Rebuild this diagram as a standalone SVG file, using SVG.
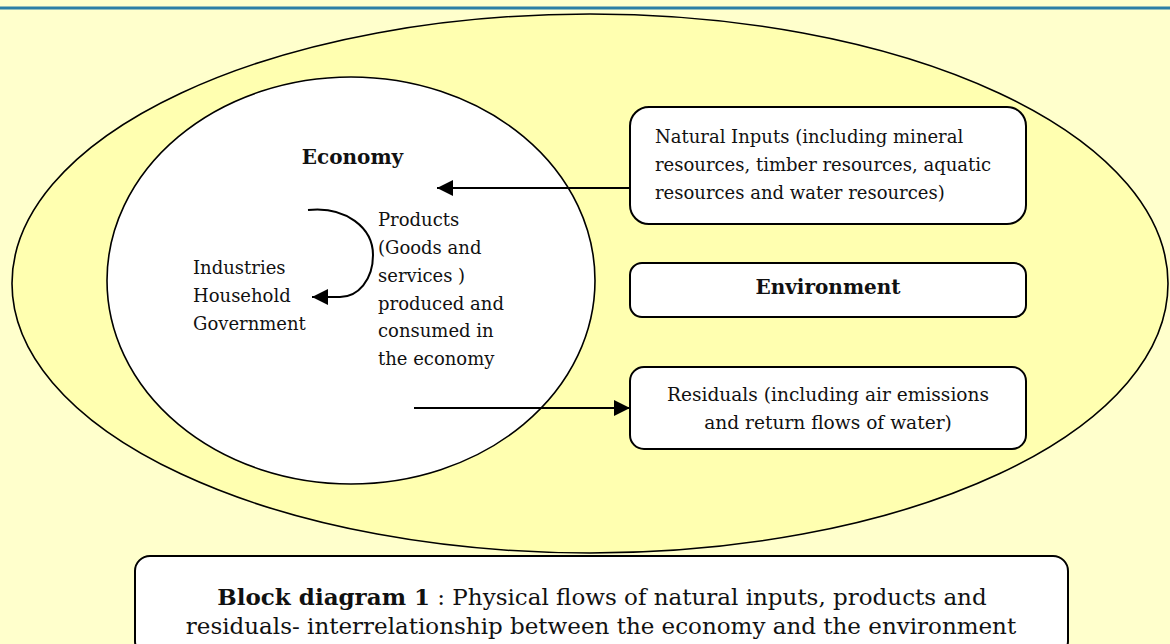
<svg xmlns="http://www.w3.org/2000/svg" width="1170" height="644" viewBox="0 0 1170 644">
<defs>
<style>
.t{font-family:"DejaVu Serif","Liberation Serif",serif;font-size:18px;fill:#111}
.b{font-weight:bold;font-size:20px}
.r{font-size:18.6px}
.box{fill:#fff;stroke:#000;stroke-width:2}
.ln{fill:none;stroke:#000;stroke-width:2}
.cap{font-size:23px}
</style>
<marker id="ah" markerUnits="userSpaceOnUse" markerWidth="18" markerHeight="16" refX="16" refY="8" orient="auto" viewBox="0 0 18 16">
<path d="M0,0 L16,8 L0,16 Z" fill="#000"/>
</marker>
</defs>
<rect width="1170" height="644" fill="#FFFFCC"/>
<line x1="0" y1="8" x2="1170" y2="8" stroke="#2B7FA6" stroke-width="3"/>
<g id="environment-ellipse">
<ellipse cx="590" cy="283.5" rx="578" ry="269.5" fill="#FFFFB0" stroke="#000" stroke-width="1.6"/>
</g>
<g id="economy">
<ellipse cx="351" cy="280.5" rx="244" ry="203.5" fill="#fff" stroke="#000" stroke-width="1.6"/>
<text class="t b" x="352.5" y="164" text-anchor="middle">Economy</text>
<text class="t" x="193" y="274">Industries</text>
<text class="t" x="193" y="302">Household</text>
<text class="t" x="193" y="330">Government</text>
<text class="t" x="378" y="226">Products</text>
<text class="t" x="378" y="254">(Goods and</text>
<text class="t" x="378" y="282">services )</text>
<text class="t" x="378" y="310">produced and</text>
<text class="t" x="378" y="337">consumed in</text>
<text class="t" x="378" y="365">the economy</text>
</g>
<g id="natural-inputs">
<rect class="box" x="630" y="107" width="396" height="117" rx="19"/>
<text class="t" x="655" y="143">Natural Inputs (including mineral</text>
<text class="t" x="655" y="171">resources, timber resources, aquatic</text>
<text class="t" x="655" y="199">resources and water resources)</text>
</g>
<g id="environment">
<rect class="box" x="630" y="263" width="396" height="54" rx="12"/>
<text class="t b" x="828" y="294" text-anchor="middle">Environment</text>
</g>
<g id="residuals">
<rect class="box" x="630" y="367" width="396" height="82" rx="14"/>
<text class="t r" x="828" y="401" text-anchor="middle">Residuals (including air emissions</text>
<text class="t r" x="828" y="429" text-anchor="middle">and return flows of water)</text>
</g>
<g id="caption">
<rect class="box" x="135" y="556" width="933" height="100" rx="15"/>
<text class="t cap" x="602" y="605" text-anchor="middle"><tspan font-weight="bold">Block diagram 1</tspan> : Physical flows of natural inputs, products and</text>
<text class="t cap" x="601" y="634" text-anchor="middle">residuals- interrelationship between the economy and the environment</text>
</g>
<g id="connectors">
<line class="ln" x1="630" y1="188" x2="437" y2="188" marker-end="url(#ah)"/>
<line class="ln" x1="414" y1="408" x2="630" y2="408" marker-end="url(#ah)"/>
<path class="ln" d="M308,210 C346,206 373,228 373,255 C373,280 358,297 340,297 L312,297" marker-end="url(#ah)"/>
</g>
</svg>
